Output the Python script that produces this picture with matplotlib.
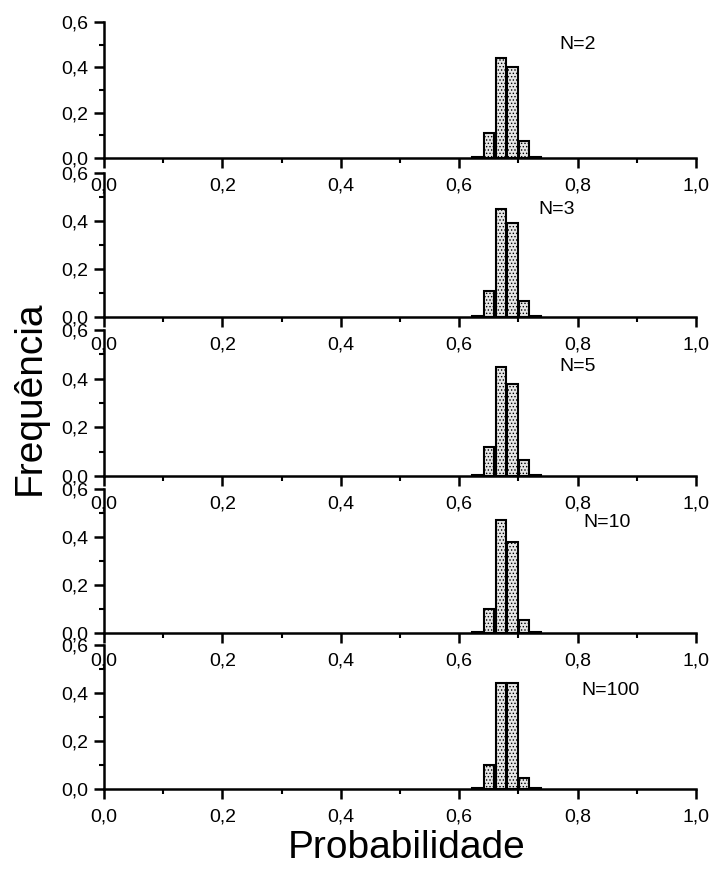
import matplotlib
matplotlib.use("Agg")
import matplotlib.pyplot as plt
import numpy as np
from matplotlib.ticker import MultipleLocator

plt.rcParams['font.family'] = ['Liberation Sans', 'DejaVu Sans']
plt.rcParams['hatch.color'] = '#8a8a8a'
plt.rcParams['hatch.linewidth'] = 0.6

# histogram bins (centre of each bin) and frequencies per N
bins = [0.63, 0.65, 0.67, 0.69, 0.71, 0.73]
labels = ["N=2", "N=3", "N=5", "N=10", "N=100"]
freq_n2 = [0.004, 0.11, 0.44, 0.40, 0.075, 0.004]
freq_n3 = [0.004, 0.11, 0.45, 0.39, 0.065, 0.004]
freq_n5 = [0.004, 0.12, 0.45, 0.38, 0.065, 0.004]
freq_n10 = [0.004, 0.10, 0.47, 0.38, 0.055, 0.004]
freq_n100 = [0.004, 0.10, 0.44, 0.44, 0.045, 0.004]
freqs = [freq_n2, freq_n3, freq_n5, freq_n10, freq_n100]

xticks = [0.0, 0.2, 0.4, 0.6, 0.8, 1.0]
yticks = [0.0, 0.2, 0.4, 0.6]

W, H = 713, 873
fig = plt.figure(figsize=(W / 100, H / 100), dpi=100)

x0, x1 = 104, 696
bases = [158, 317, 476, 633, 789]
heights = [136, 144, 146, 144, 144]
label_pos = [(0.80, 0.50), (0.765, 0.45), (0.80, 0.45), (0.85, 0.46), (0.855, 0.41)]


def comma(t):
    return f"{t:.1f}".replace('.', ',')


for i, (f, lab) in enumerate(zip(freqs, labels)):
    b, h = bases[i], heights[i]
    ax = fig.add_axes([x0 / W, 1 - b / H, (x1 - x0) / W, h / H])
    ax.bar(bins, f, width=0.017, facecolor='#e6e6e6', edgecolor='black',
           linewidth=1.5, hatch='.....', zorder=2)
    ax.set_xlim(0, 1.0)
    ax.set_ylim(0, 0.6)
    ax.set_xticks(xticks)
    ax.set_yticks(yticks)
    ax.xaxis.set_minor_locator(MultipleLocator(0.1))
    ax.yaxis.set_minor_locator(MultipleLocator(0.1))
    ax.set_xticklabels([comma(t) for t in xticks])
    ax.set_yticklabels([comma(t) for t in yticks])
    for s in ['top', 'right']:
        ax.spines[s].set_visible(False)
    for s in ['left', 'bottom']:
        ax.spines[s].set_linewidth(1.8)
    ax.tick_params(which='major', direction='out', length=7, width=1.8,
                   labelsize=14, pad=4)
    ax.tick_params(axis='x', which='major', pad=7)
    ax.tick_params(which='minor', direction='out', length=3.5, width=1.5)
    ax.patch.set_alpha(0)
    ax.text(label_pos[i][0], label_pos[i][1], lab, fontsize=14,
            ha='center', va='center')

fig.text(30 / W, 1 - 398 / H, "Frequência", rotation=90, fontsize=28,
         ha='center', va='center')
fig.text(407 / W, 1 - 848 / H, "Probabilidade", fontsize=28,
         ha='center', va='center')

fig.savefig("out.png", dpi=100)
